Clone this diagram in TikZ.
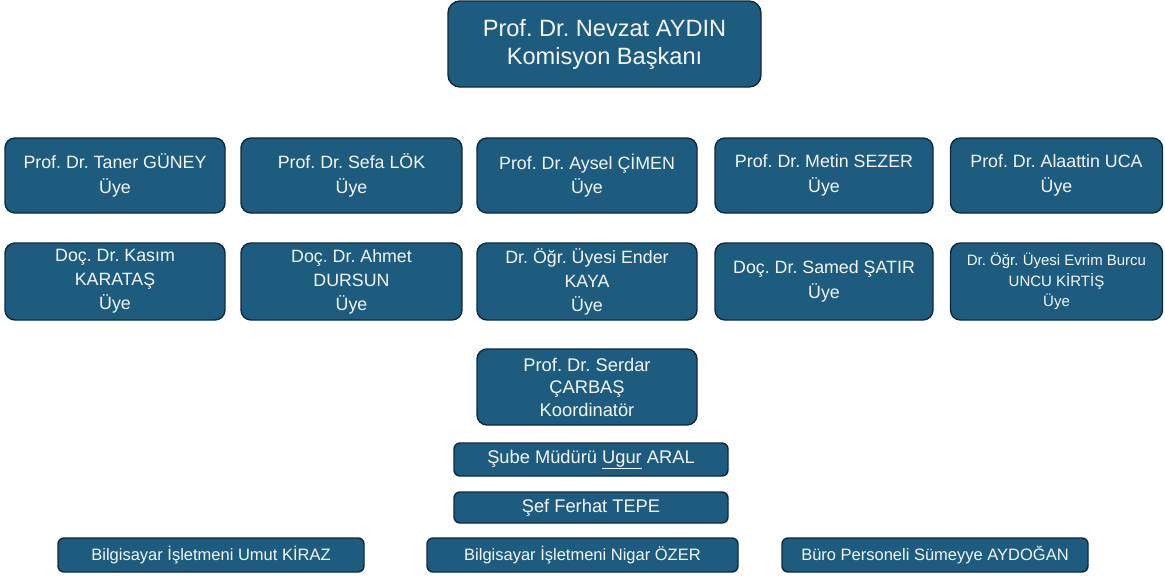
\documentclass[tikz,border=0pt]{standalone}
\usepackage{fontspec}
\setmainfont{Liberation Sans}
\frenchspacing
\definecolor{boxfill}{HTML}{1D5C7E}
\definecolor{boxline}{HTML}{0E2A3A}
\definecolor{boxtext}{HTML}{F4F7F9}
\begin{document}
\begin{tikzpicture}[x=1pt,y=-1pt,
  box/.style={draw=boxline, line width=1.4pt, fill=boxfill, text=boxtext,
    rounded corners=10pt, align=center, inner sep=2pt, font=\fontsize{17.8}{24.5}\selectfont},
  wide/.style={box, rounded corners=6pt, font=\fontsize{18.3}{20}\selectfont},
  low/.style={wide, font=\fontsize{16.5}{18}\selectfont}]
\useasboundingbox (0,0) rectangle (1165,576);
\node[box, minimum width=313pt, minimum height=86pt, rounded corners=12pt, font=\fontsize{23.6}{28}\selectfont] (chair) at (604.5,44) {Prof. Dr. Nevzat AYDIN\\Komisyon Başkanı};
% row 1
\node[box, minimum width=220pt, minimum height=75pt] (m1) at (115,175.5) {Prof. Dr. Taner GÜNEY\\Üye};
\node[box, minimum width=221pt, minimum height=75pt] (m2) at (351.5,175.5) {Prof. Dr. Sefa LÖK\\Üye};
\node[box, minimum width=220pt, minimum height=75pt] (m3) at (587,175.5) {Prof. Dr. Aysel ÇİMEN\\Üye};
\node[box, minimum width=218pt, minimum height=75pt] (m4) at (824,175.5) {Prof. Dr. Metin SEZER\\Üye};
\node[box, minimum width=212pt, minimum height=75pt] (m5) at (1056.5,175.5) {Prof. Dr. Alaattin UCA\\Üye};
% row 2
\node[box, minimum width=220pt, minimum height=77pt, font=\fontsize{17.8}{24}\selectfont] (n1) at (115,281.5) {Doç. Dr. Kasım\\KARATAŞ\\Üye};
\node[box, minimum width=221pt, minimum height=77pt, font=\fontsize{17.8}{24}\selectfont] (n2) at (351.5,281.5) {Doç. Dr. Ahmet\\DURSUN\\Üye};
\node[box, minimum width=220pt, minimum height=77pt, font=\fontsize{17.8}{24}\selectfont] (n3) at (587,281.5) {Dr. Öğr. Üyesi Ender\\KAYA\\Üye};
\node[box, minimum width=218pt, minimum height=77pt] (n4) at (824,281.5) {Doç. Dr. Samed ŞATIR\\Üye};
\node[box, minimum width=212pt, minimum height=77pt, font=\fontsize{15}{20.5}\selectfont] (n5) at (1056.5,281.5) {Dr. Öğr. Üyesi Evrim Burcu\\UNCU KİRTİŞ\\Üye};
% coordinator
\node[box, minimum width=220pt, minimum height=76pt, font=\fontsize{18.3}{22.5}\selectfont] (coord) at (587,387) {Prof. Dr. Serdar\\ÇARBAŞ\\Koordinatör};
\node[wide, minimum width=274pt, minimum height=33pt] (sube) at (591,459.5) {Şube Müdürü \underline{Ugur} ARAL};
\node[wide, minimum width=274pt, minimum height=31pt] (sef) at (591,507.5) {Şef Ferhat TEPE};
% bottom
\node[low, minimum width=306pt, minimum height=34pt] (b1) at (211,555) {Bilgisayar İşletmeni Umut KİRAZ};
\node[low, minimum width=311pt, minimum height=34pt] (b2) at (582.5,555) {Bilgisayar İşletmeni Nigar ÖZER};
\node[low, minimum width=306pt, minimum height=34pt] (b3) at (935,555) {Büro Personeli Sümeyye AYDOĞAN};
\end{tikzpicture}
\end{document}
